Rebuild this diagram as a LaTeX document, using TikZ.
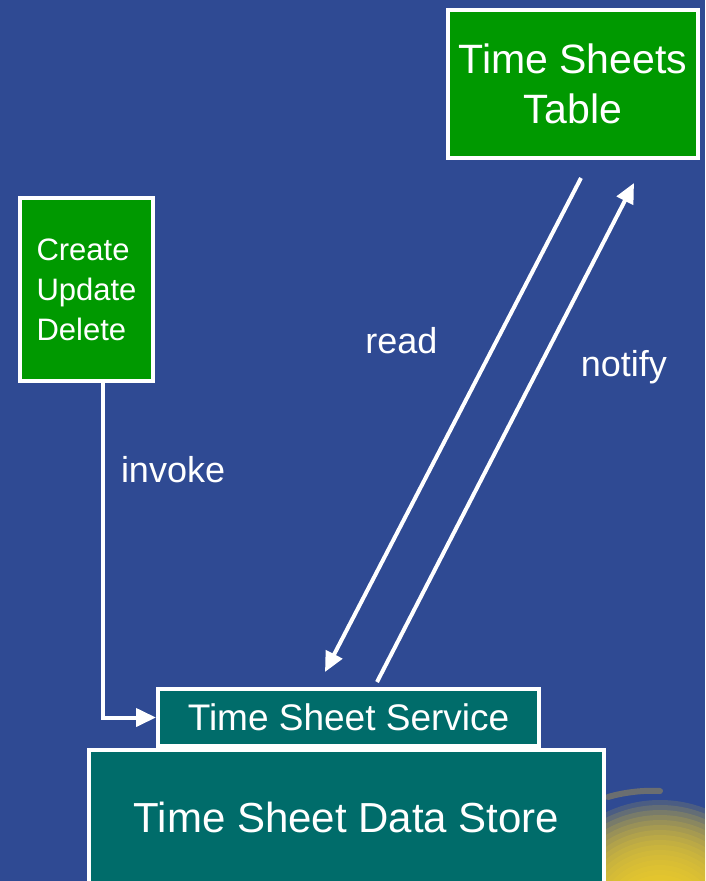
\documentclass[tikz,border=0pt]{standalone}
\usepackage{fontspec}
\setmainfont{Liberation Sans}
\usetikzlibrary{arrows.meta,positioning,calc}
\definecolor{slideblue}{RGB}{47,74,147}
\definecolor{boxgreen}{RGB}{0,153,0}
\definecolor{boxteal}{RGB}{0,108,106}
\definecolor{sunyellow}{RGB}{248,212,40}

\begin{document}
\begin{tikzpicture}[x=1pt, y=-1pt,
    box/.style={draw=white, line width=4pt, text=white, inner sep=0pt},
    flow/.style={draw=white, line width=4pt, -{Triangle[length=20pt,width=18pt]}},
    lbl/.style={text=white, inner sep=0pt, font=\fontsize{36}{40}\selectfont}]
  \clip (0,0) rectangle (705,881);
  \fill[slideblue] (0,0) rectangle (705,881);
  % glow in the lower right corner, built up from faint discs
  \foreach \r in {125,120,...,30}
    \fill[sunyellow, opacity=0.14] (660,925) circle (\r);
  \draw[sunyellow!80!orange, opacity=0.3, line width=6pt, line cap=round]
    (608,797) .. controls (625,792) and (645,790) .. (660,791);

  \node[box, fill=boxgreen, minimum width=250pt, minimum height=148pt, align=center,
        font=\fontsize{41}{50}\selectfont] (table) at (573,84) {Time Sheets\\Table};
  \node[box, fill=boxgreen, minimum width=133pt, minimum height=183pt, align=left,
        font=\fontsize{31}{40}\selectfont] (cud) at (86.5,289.5) {Create\\Update\\Delete};
  \node[box, fill=boxteal, minimum width=381pt, minimum height=57pt,
        font=\fontsize{37}{44}\selectfont] (service) at (348.5,717.5) {Time Sheet Service};
  \node[box, fill=boxteal, minimum width=515pt, minimum height=134pt,
        font=\fontsize{42}{50}\selectfont] (store) at (346.5,817) {Time Sheet Data Store};

  \coordinate (readfrom) at ($(table.south)+(8,18)$);
  \coordinate (readto) at ($(service.north)+(-23.5,-15)$);
  \coordinate (notefrom) at ($(service.north)+(28.5,-5)$);
  \coordinate (noteto) at ($(table.south)+(61,23)$);

  \draw[flow] (readfrom) -- (readto) node[lbl, pos=0.33, left=57pt] (read) {read};
  \draw[flow] (notefrom) -- (noteto) node[lbl, pos=0.63, right=40pt] (notify) {notify};
  \draw[flow] ($(cud.south)+(16.5,0)$) |- (service.west)
    node[lbl, pos=0.13, right=16pt] (invoke) {invoke};
\end{tikzpicture}
\end{document}
